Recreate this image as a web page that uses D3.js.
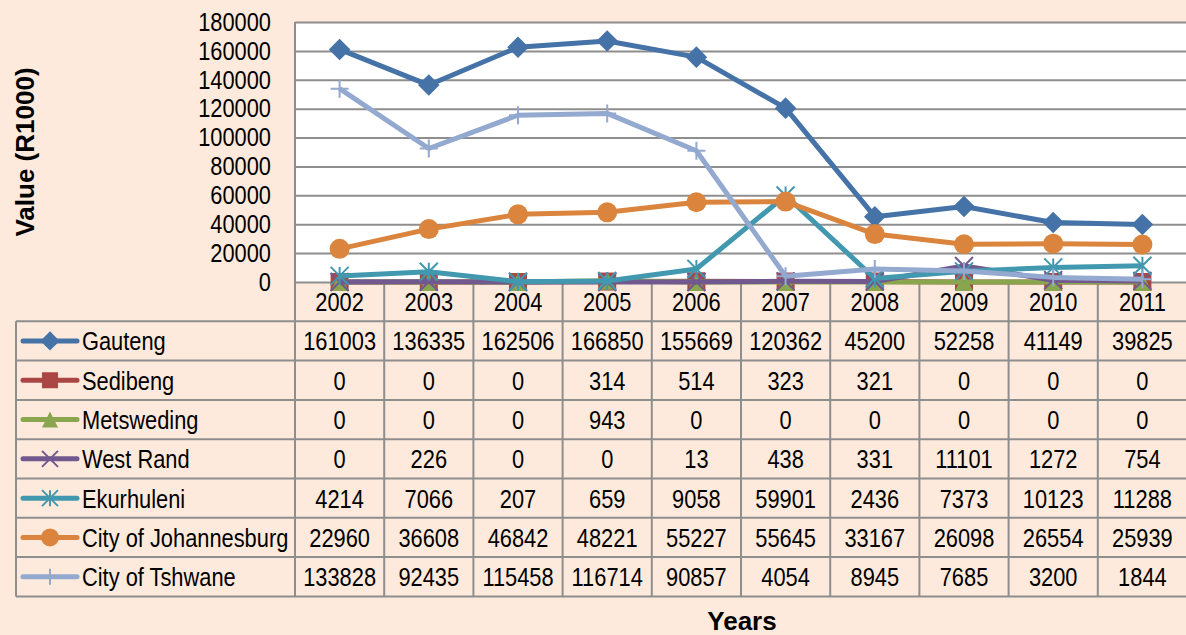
<!DOCTYPE html>
<html>
<head>
<meta charset="utf-8">
<script src="https://cdn.jsdelivr.net/npm/d3@7"></script>
<style>
  body { margin: 0; background: #fdeadc; overflow: hidden; }
  svg { display: block; }
  text { font-family: "Liberation Sans", Arial, sans-serif; }
</style>
</head>
<body>
<div id="chart-area"></div>
<script>
var years = ["2002","2003","2004","2005","2006","2007","2008","2009","2010","2011"];
var seriesNames = ["Gauteng","Sedibeng","Metsweding","West Rand","Ekurhuleni","City of Johannesburg","City of Tshwane"];
var gauteng = [161003,136335,162506,166850,155669,120362,45200,52258,41149,39825];
var sedibeng = [0,0,0,314,514,323,321,0,0,0];
var metsweding = [0,0,0,943,0,0,0,0,0,0];
var westRand = [0,226,0,0,13,438,331,11101,1272,754];
var ekurhuleni = [4214,7066,207,659,9058,59901,2436,7373,10123,11288];
var johannesburg = [22960,36608,46842,48221,55227,55645,33167,26098,26554,25939];
var tshwane = [133828,92435,115458,116714,90857,4054,8945,7685,3200,1844];
var yTicks = [0,20000,40000,60000,80000,100000,120000,140000,160000,180000];

var colors = ["#4572a7","#aa4643","#89a54e","#71588f","#4198af","#db843d","#93a9cf"];
var symbols = ["diamond","square","triangle","x","asterisk","circle","plus"];
var allValues = [gauteng, sedibeng, metsweding, westRand, ekurhuleni, johannesburg, tshwane];

var series = seriesNames.map(function(n, i) {
    return { name: n, values: allValues[i], color: colors[i], symbol: symbols[i] };
});

var W = 1186, H = 635;
var margin = { left: 295, top: 22 };
var plotBottom = 282;
var gridColor = "#8e8e8e";
var narrow = 0.84; // no Arial Narrow installed, squeeze Liberation Sans instead

var svg = d3.select("#chart-area")
    .append("svg")
    .attr("width", W)
    .attr("height", H);

var x = d3.scaleBand().domain(years).range([margin.left, W + 1]);
var y = d3.scaleLinear().domain([0, 180000]).range([plotBottom, margin.top]);

function cx(i) { return x(years[i]) + x.bandwidth() / 2; }

// plot area
svg.append("rect")
    .attr("x", margin.left).attr("y", margin.top)
    .attr("width", W - margin.left + 2).attr("height", plotBottom - margin.top)
    .attr("fill", "#ffffff");

// gridlines
svg.append("g")
    .attr("transform", "translate(" + margin.left + ",0)")
    .call(d3.axisLeft(y).tickValues(yTicks).tickSize(-(W - margin.left + 2)).tickFormat(""))
    .call(function(g) {
        g.select(".domain").remove();
        g.selectAll("line").attr("stroke", gridColor).attr("stroke-width", 2);
    });

// y tick labels
svg.append("g")
    .attr("transform", "translate(271,0)")
    .call(d3.axisLeft(y).tickValues(yTicks).tickSize(0).tickPadding(0).tickFormat(d3.format("d")))
    .call(function(g) {
        g.select(".domain").remove();
        g.selectAll("text")
            .attr("font-size", 26).attr("fill", "#000")
            .attr("font-family", "'Liberation Sans', Arial, sans-serif")
            .attr("transform", "scale(" + narrow + ",1)");
    });

// table geometry
var rowH = 39.3;
var tableTop = plotBottom;
var legendLeft = 16;
var rowsTop = tableTop + rowH;
var tableBottom = rowsTop + rowH * series.length;

var table = svg.append("g");

// horizontal lines
table.selectAll("line.h")
    .data(d3.range(series.length + 1))
    .enter().append("line")
    .attr("class", "h")
    .attr("x1", legendLeft).attr("x2", W + 1)
    .attr("y1", function(d) { return rowsTop + d * rowH; })
    .attr("y2", function(d) { return rowsTop + d * rowH; })
    .attr("stroke", gridColor).attr("stroke-width", 2);

// vertical lines
var colEdges = years.map(function(d) { return x(d); }).concat([W + 1]);
table.selectAll("line.v")
    .data(colEdges)
    .enter().append("line")
    .attr("class", "v")
    .attr("x1", function(d) { return d; }).attr("x2", function(d) { return d; })
    .attr("y1", function(d, i) { return i === 0 ? margin.top : tableTop; })
    .attr("y2", tableBottom)
    .attr("stroke", gridColor).attr("stroke-width", 2);

table.append("line")
    .attr("x1", legendLeft).attr("x2", legendLeft)
    .attr("y1", rowsTop).attr("y2", tableBottom)
    .attr("stroke", gridColor).attr("stroke-width", 2);

// year labels
table.selectAll("text.year")
    .data(years)
    .enter().append("text")
    .attr("class", "year")
    .attr("transform", function(d, i) { return "translate(" + cx(i) + "," + (tableTop + rowH / 2) + ") scale(" + narrow + ",1)"; })
    .attr("dy", "0.36em")
    .attr("text-anchor", "middle")
    .attr("font-size", 26)
    .text(function(d) { return d; });

// markers
function drawMarker(g, sym, color, s) {
    if (sym === "diamond") {
        var d = s * 0.6;
        g.append("path").attr("d", "M0," + (-d) + "L" + d + ",0L0," + d + "L" + (-d) + ",0Z").attr("fill", color);
    } else if (sym === "square") {
        g.append("rect").attr("x", -s / 2).attr("y", -s / 2).attr("width", s).attr("height", s).attr("fill", color);
    } else if (sym === "triangle") {
        g.append("path").attr("d", "M0," + (-s / 2) + "L" + (s / 2) + "," + (s / 2) + "L" + (-s / 2) + "," + (s / 2) + "Z").attr("fill", color);
    } else if (sym === "x") {
        var a = s / 2;
        g.append("path").attr("d", "M" + (-a) + "," + (-a) + "L" + a + "," + a + "M" + (-a) + "," + a + "L" + a + "," + (-a))
            .attr("stroke", color).attr("stroke-width", 2).attr("fill", "none");
    } else if (sym === "asterisk") {
        var b = s / 2;
        g.append("path").attr("d", "M" + (-b) + "," + (-b) + "L" + b + "," + b + "M" + (-b) + "," + b + "L" + b + "," + (-b) + "M0," + (-b) + "L0," + b)
            .attr("stroke", color).attr("stroke-width", 2).attr("fill", "none");
    } else if (sym === "circle") {
        g.append("circle").attr("r", s / 2 + 1).attr("fill", color);
    } else if (sym === "plus") {
        var c = s / 2;
        g.append("path").attr("d", "M" + (-c) + ",0L" + c + ",0M0," + (-c) + "L0," + c)
            .attr("stroke", color).attr("stroke-width", 2).attr("fill", "none");
    }
}

// lines
var line = d3.line()
    .x(function(d, i) { return cx(i); })
    .y(function(d) { return y(d); });

var sg = svg.selectAll("g.series")
    .data(series)
    .enter().append("g")
    .attr("class", "series");

sg.append("path")
    .attr("d", function(d) { return line(d.values); })
    .attr("fill", "none")
    .attr("stroke", function(d) { return d.color; })
    .attr("stroke-width", 5)
    .attr("stroke-linejoin", "round");

sg.each(function(d) {
    var g = d3.select(this);
    d.values.forEach(function(v, i) {
        var m = g.append("g")
            .attr("transform", "translate(" + cx(i) + "," + y(v) + ")");
        drawMarker(m, d.symbol, d.color, 18);
    });
});

// table rows (legend + values)
var rows = table.selectAll("g.row")
    .data(series)
    .enter().append("g")
    .attr("class", "row")
    .attr("transform", function(d, i) { return "translate(0," + (rowsTop + i * rowH + rowH / 2) + ")"; });

rows.append("line")
    .attr("x1", 23).attr("x2", 77).attr("y1", 0).attr("y2", 0)
    .attr("stroke", function(d) { return d.color; })
    .attr("stroke-width", 5).attr("stroke-linecap", "round");

rows.each(function(d) {
    var m = d3.select(this).append("g").attr("transform", "translate(50,0)");
    drawMarker(m, d.symbol, d.color, 16);
});

rows.append("text")
    .attr("transform", "translate(82,0) scale(" + narrow + ",1)")
    .attr("dy", "0.36em")
    .attr("font-size", 26)
    .text(function(d) { return d.name; });

rows.selectAll("text.val")
    .data(function(d) { return d.values; })
    .enter().append("text")
    .attr("class", "val")
    .attr("transform", function(d, i) { return "translate(" + cx(i) + ",0) scale(" + narrow + ",1)"; })
    .attr("dy", "0.36em")
    .attr("text-anchor", "middle")
    .attr("font-size", 26)
    .text(function(d) { return d; });

// axis titles
svg.append("text")
    .attr("transform", "translate(34,152) rotate(-90)")
    .attr("text-anchor", "middle")
    .attr("font-size", 26).attr("font-weight", "bold")
    .text("Value (R1000)");

svg.append("text")
    .attr("x", 742).attr("y", 630)
    .attr("text-anchor", "middle")
    .attr("font-size", 26).attr("font-weight", "bold")
    .text("Years");
</script>
</body>
</html>
